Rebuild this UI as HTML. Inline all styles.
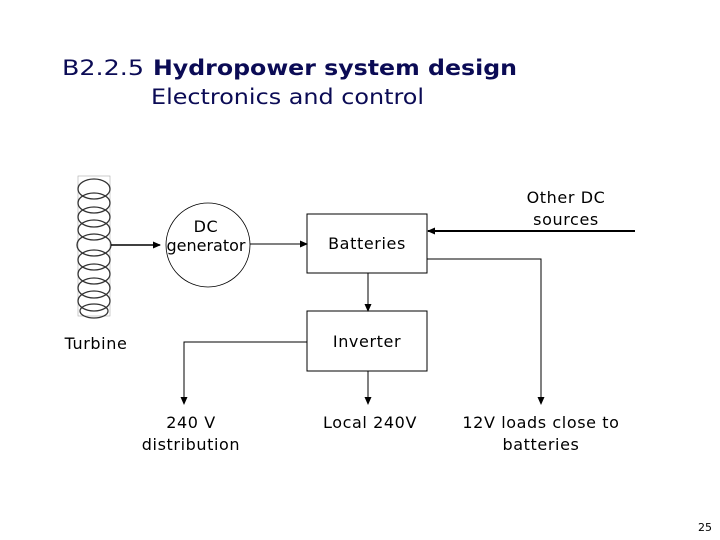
<!DOCTYPE html>
<html><head><meta charset="utf-8"><style>
html,body{margin:0;padding:0;background:#fff;}
svg{display:block;}
text{font-family:"DejaVu Sans","Liberation Sans",sans-serif;}
</style></head><body>
<svg width="720" height="540" viewBox="0 0 720 540" xmlns="http://www.w3.org/2000/svg">
<defs><marker id="a" markerWidth="8" markerHeight="8" refX="7" refY="4" orient="auto" markerUnits="userSpaceOnUse"><path d="M0,0.5 L8,4 L0,7.5Z" fill="#000"/></marker></defs>
<g fill="#0b0b55" font-size="21">
<text x="62" y="75" textLength="82" lengthAdjust="spacingAndGlyphs">B2.2.5</text>
<text x="153" y="75" font-weight="bold" textLength="364" lengthAdjust="spacingAndGlyphs">Hydropower system design</text>
<text x="151" y="104" textLength="273" lengthAdjust="spacingAndGlyphs">Electronics and control</text>
</g>
<!-- turbine -->
<g fill="none" stroke="#333" stroke-width="1.3">
<rect x="78" y="176" width="32" height="140" stroke="#aaa" stroke-width="0.6"/>
<ellipse cx="94" cy="189" rx="16" ry="10"/><ellipse cx="94" cy="203" rx="16" ry="10"/>
<ellipse cx="94" cy="217" rx="16" ry="10"/><ellipse cx="94" cy="230" rx="16" ry="10"/>
<ellipse cx="94" cy="245" rx="17" ry="11"/><ellipse cx="94" cy="260" rx="16" ry="10"/>
<ellipse cx="94" cy="274" rx="16" ry="10"/><ellipse cx="94" cy="288" rx="16" ry="10"/>
<ellipse cx="94" cy="301" rx="16" ry="10"/><ellipse cx="94" cy="311" rx="14" ry="7"/>
</g>
<g stroke="#000" fill="none">
<line x1="111" y1="245" x2="160" y2="245" stroke-width="1.5" marker-end="url(#a)"/>
<circle cx="208" cy="245" r="42" stroke-width="0.8"/>
<line x1="250" y1="244" x2="307" y2="244" stroke-width="1" marker-end="url(#a)"/>
<rect x="307" y="214" width="120" height="59" stroke-width="1"/>
<rect x="307" y="311" width="120" height="60" stroke-width="1"/>
<line x1="635" y1="231" x2="428" y2="231" stroke-width="2" marker-end="url(#a)"/>
<line x1="368" y1="273" x2="368" y2="311" stroke-width="1" marker-end="url(#a)"/>
<line x1="368" y1="371" x2="368" y2="404" stroke-width="1" marker-end="url(#a)"/>
<polyline points="427,259 541,259 541,404" stroke-width="1" marker-end="url(#a)"/>
<polyline points="307,342 184,342 184,404" stroke-width="1" marker-end="url(#a)"/>
</g>
<g fill="#000" font-size="16" text-anchor="middle" letter-spacing="0.6">
<text x="206" y="232">DC</text>
<text x="206" y="251" letter-spacing="0">generator</text>
<text x="367" y="249">Batteries</text>
<text x="367" y="347">Inverter</text>
<text x="566" y="203">Other DC</text>
<text x="566" y="225">sources</text>
<text x="96" y="349">Turbine</text>
<text x="191" y="428">240 V</text>
<text x="191" y="450">distribution</text>
<text x="370" y="428">Local 240V</text>
<text x="541" y="428">12V loads close to</text>
<text x="541" y="450">batteries</text>
<text x="705" y="531" font-size="11" letter-spacing="0">25</text>
</g>
</svg>
</body></html>
